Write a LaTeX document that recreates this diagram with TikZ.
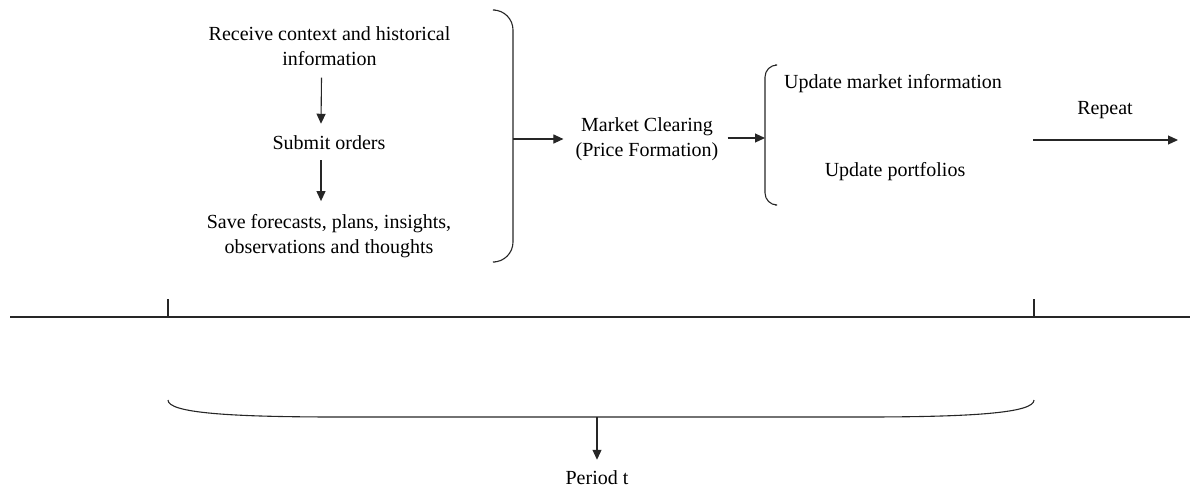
\documentclass[tikz,border=0pt]{standalone}
\usepackage{fontspec}
\setmainfont{Liberation Serif}
\usepackage{tikz}
\usetikzlibrary{arrows.meta,positioning,calc}

\tikzset{
  txt/.style={align=center, font=\fontsize{20}{25}\selectfont, inner sep=2pt},
  ln/.style={line width=1.1pt, draw=black!85},
  arr/.style={ln, -{Triangle[length=10pt,width=9pt]}}
}

\begin{document}
\begin{tikzpicture}[x=1pt,y=-1pt]
  \useasboundingbox (0,0) rectangle (1190,491);

  % Agent steps
  \node[txt] (recv) at (329.5,46) {Receive context and historical\\information};
  \node[txt] (submit) at (329,143) {Submit orders};
  \node[txt] (save) at (329,236) {Save forecasts, plans, insights,\\observations and thoughts};
  \draw[arr] ([xshift=-8pt,yshift=-10pt]recv.south) -- ([xshift=-8pt,yshift=10pt]submit.north);
  \draw[arr] ([xshift=-8pt,yshift=-8pt]submit.south) -- ([xshift=-8pt,yshift=11pt]save.north);

  % Right bracket
  \coordinate (rbtop) at (495,10);
  \coordinate (rbbot) at (495,262);
  \coordinate (rbmid) at (513,139);
  \draw[ln, rounded corners=20pt] (rbtop) -- (513,10) -- (513,262) -- (rbbot);

  % Market clearing
  \node[txt] (clear) at (647,139.5) {Market Clearing\\(Price Formation)};
  \draw[arr] (rbmid) -- ([xshift=-10pt]clear.west |- rbmid);

  % Left bracket
  \coordinate (lbtop) at (775,65);
  \coordinate (lbbot) at (775,205);
  \coordinate (lbmid) at (765,138);
  \draw[ln, rounded corners=12pt] (lbtop) -- (765,65) -- (765,205) -- (lbbot);
  \draw[arr] ([xshift=7pt]clear.east |- lbmid) -- (lbmid);

  % Updates
  \node[txt] (updinfo) at (893,84) {Update market information};
  \node[txt] (updport) at (895,172) {Update portfolios};

  % Repeat
  \node[txt] (rep) at (1105,110) {Repeat};
  \coordinate (repa) at (1033,140);
  \coordinate (repb) at (1178,140);
  \draw[arr] (repa) -- (repb);

  % Timeline
  \coordinate (tla) at (10,317);
  \coordinate (tlb) at (1190,317);
  \coordinate (tka) at (168,317);
  \coordinate (tkb) at (1034,317);
  \draw[ln] (tla) -- (tlb);
  \draw[ln] (tka) -- ++(0,-18);
  \draw[ln] (tkb) -- ++(0,-18);

  % Period brace
  \coordinate (bra) at (168,400);
  \coordinate (brb) at (1034,400);
  \coordinate (brm) at (597,417);
  \draw[ln] (bra) .. controls (168,413) and (230,417) .. (340,417)
    -- (862,417) .. controls (972,417) and (1034,413) .. (brb);
  \node[txt] (period) at (597,478) {Period t};
  \draw[arr] (brm) -- ([yshift=9pt]period.north);
\end{tikzpicture}
\end{document}
